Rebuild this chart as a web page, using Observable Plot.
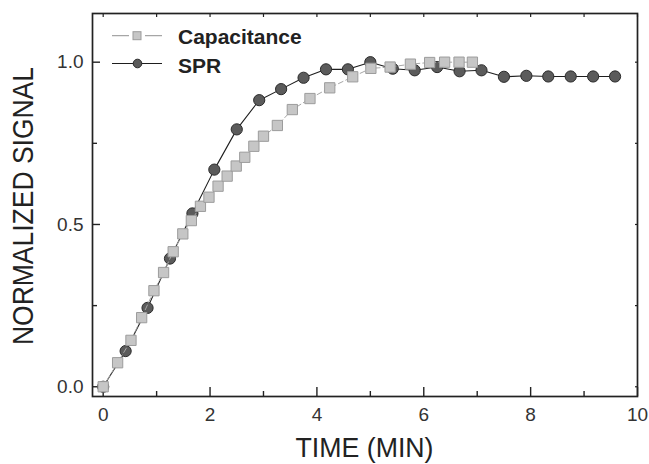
<!DOCTYPE html>
<html><head><meta charset="utf-8">
<script src="https://cdn.jsdelivr.net/npm/d3@7"></script>
<script src="https://cdn.jsdelivr.net/npm/@observablehq/plot@0.6"></script>
<style>html,body{margin:0;padding:0;background:#fff;} svg{display:block;}</style>
</head><body><div id="chart"></div>
<script>
// SPR series (time in min, normalized signal)
const sprTime = [0, 0.42, 0.83, 1.25, 1.67, 2.08, 2.50, 2.92, 3.33, 3.75, 4.17, 4.58, 5.00, 5.42, 5.83, 6.25, 6.67, 7.08, 7.50, 7.92, 8.33, 8.75, 9.17, 9.58];
const sprSignal = [0, 0.110, 0.243, 0.395, 0.534, 0.669, 0.793, 0.883, 0.917, 0.952, 0.978, 0.978, 1.0, 0.980, 0.975, 0.985, 0.972, 0.975, 0.955, 0.958, 0.956, 0.956, 0.956, 0.956];
// Capacitance series
const capTime = [0, 0.27, 0.52, 0.72, 0.95, 1.13, 1.31, 1.49, 1.65, 1.82, 1.98, 2.15, 2.32, 2.49, 2.65, 2.82, 3.00, 3.26, 3.54, 3.87, 4.24, 4.67, 5.01, 5.37, 5.75, 6.11, 6.39, 6.66, 6.91];
const capSignal = [0, 0.074, 0.143, 0.213, 0.296, 0.352, 0.416, 0.471, 0.512, 0.556, 0.584, 0.618, 0.649, 0.680, 0.707, 0.741, 0.772, 0.805, 0.854, 0.888, 0.921, 0.955, 0.981, 0.985, 0.994, 0.999, 1.0, 1.0, 1.0];
// Ticks and labels
const xMajorTicks = [0, 2, 4, 6, 8, 10];
const xMinorTicks = [1, 3, 5, 7, 9];
const yMajorTicks = [0, 0.5, 1.0];
const yMinorTicks = [0.25, 0.75];
const seriesNames = ["Capacitance", "SPR"];
const xTitle = "TIME (MIN)";
const yTitle = "NORMALIZED SIGNAL";

const spr = sprTime.map((t, i) => ({time: t, signal: sprSignal[i]}));
const cap = capTime.map((t, i) => ({time: t, signal: capSignal[i]}));
const xAll = xMajorTicks.concat(xMinorTicks);
const yAll = yMajorTicks.concat(yMinorTicks);
const font = "'Liberation Sans', Arial, Helvetica, sans-serif";
const blank = () => "";

const plot = Plot.plot({
  width: 649, height: 464,
  marginLeft: 92, marginRight: 12, marginTop: 13, marginBottom: 68,
  x: {domain: [-0.2, 10], label: null},
  y: {domain: [-0.03, 1.15], label: null},
  style: {fontFamily: font, background: "#fff"},
  marks: [
    // tick labels
    Plot.axisX(xMajorTicks, {tickSize: 0, tickPadding: 11, fontSize: 19, color: "#333", label: null, tickFormat: d => String(d)}),
    Plot.axisY(yMajorTicks, {tickSize: 0, tickPadding: 9, fontSize: 19, color: "#333", label: null, tickFormat: d3.format(".1f")}),
    // inward ticks
    Plot.axisX(xMajorTicks, {tickSize: -9, tickFormat: blank, stroke: "#222", strokeWidth: 1.4, label: null}),
    Plot.axisX(xMinorTicks, {tickSize: -5, tickFormat: blank, stroke: "#222", strokeWidth: 1.4, label: null}),
    Plot.axisY(yMajorTicks, {tickSize: -8, tickFormat: blank, stroke: "#222", strokeWidth: 1.4, label: null}),
    Plot.axisY(yMinorTicks, {tickSize: -5, tickFormat: blank, stroke: "#222", strokeWidth: 1.4, label: null}),
    Plot.axisX(xAll, {anchor: "top", tickSize: -3, tickFormat: blank, stroke: "#222", strokeWidth: 1.2, label: null}),
    Plot.axisY(yAll, {anchor: "right", tickSize: -3, tickFormat: blank, stroke: "#222", strokeWidth: 1.2, label: null}),
    Plot.frame({stroke: "#222", strokeWidth: 1.7}),
    // SPR
    Plot.line(spr, {x: "time", y: "signal", stroke: "#1e1e1e", strokeWidth: 1.1}),
    Plot.dot(spr, {x: "time", y: "signal", r: 5.6, fill: "#5b5b5b", stroke: "#2b2b2b", strokeWidth: 1}),
    // Capacitance
    Plot.line(cap, {x: "time", y: "signal", stroke: "#a6a6a6", strokeWidth: 1, strokeDasharray: "5,3"}),
    Plot.dot(cap, {x: "time", y: "signal", symbol: "square", r: 5.8, fill: "#c6c6c6", stroke: "#9c9c9c", strokeWidth: 1})
  ]
});

const svg = d3.select(plot);
// Axis titles
svg.append("text").text(xTitle)
  .attr("x", 364.5).attr("y", 457).attr("text-anchor", "middle")
  .attr("font-family", font).attr("font-size", 28).attr("fill", "#222")
  .attr("textLength", 138).attr("lengthAdjust", "spacingAndGlyphs");
svg.append("text").text(yTitle)
  .attr("transform", "translate(33,206) rotate(-90)").attr("text-anchor", "middle")
  .attr("font-family", font).attr("font-size", 29).attr("fill", "#222")
  .attr("textLength", 278).attr("lengthAdjust", "spacingAndGlyphs");

// Legend
const lg = svg.append("g").attr("font-family", font).attr("text-anchor", "start");
lg.append("line").attr("x1", 112).attr("x2", 162).attr("y1", 35.7).attr("y2", 35.7)
  .attr("stroke", "#a6a6a6").attr("stroke-width", 1.2).attr("stroke-dasharray", "17,16");
lg.append("rect").attr("x", 133).attr("y", 31.7).attr("width", 8).attr("height", 8)
  .attr("fill", "#c6c6c6").attr("stroke", "#9c9c9c");
lg.append("line").attr("x1", 112).attr("x2", 162).attr("y1", 63.5).attr("y2", 63.5)
  .attr("stroke", "#1e1e1e").attr("stroke-width", 1.1);
lg.append("circle").attr("cx", 137.5).attr("cy", 63.5).attr("r", 4.3)
  .attr("fill", "#5b5b5b").attr("stroke", "#2b2b2b");
lg.append("text").text(seriesNames[0]).attr("x", 178).attr("y", 43.5).attr("text-anchor", "start")
  .attr("font-size", 21).attr("font-weight", "bold").attr("fill", "#222");
lg.append("text").text(seriesNames[1]).attr("x", 178).attr("y", 72.5).attr("text-anchor", "start")
  .attr("font-size", 21).attr("font-weight", "bold").attr("fill", "#222");

document.getElementById("chart").appendChild(plot);
</script>
</body></html>
